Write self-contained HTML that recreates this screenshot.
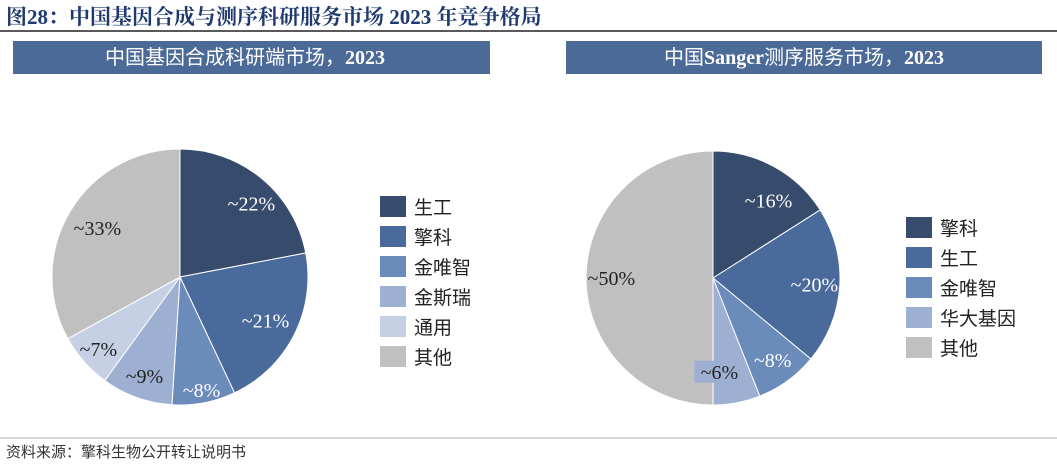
<!DOCTYPE html>
<html><head><meta charset="utf-8"><style>
body{margin:0;width:1057px;height:467px;background:#fff;overflow:hidden;font-family:"Liberation Serif","Noto Serif CJK SC",serif}
</style></head><body>
<svg width="1057" height="467" xmlns="http://www.w3.org/2000/svg">
<text x="6" y="24" font-size="21" font-weight="bold" fill="#1f3a6e" font-family="Liberation Serif,Noto Serif CJK SC,serif">图28：中国基因合成与测序科研服务市场 2023  年竞争格局</text>
<line x1="0" y1="31" x2="1057" y2="31" stroke="#222" stroke-width="1.5"/>
<rect x="13" y="41" width="477" height="33" fill="#4b6a97"/>
<text x="245" y="64" text-anchor="middle" font-size="20" fill="#fff" font-family="Liberation Serif,Noto Sans CJK SC,serif">中国基因合成科研端市场，<tspan font-weight="bold">2023</tspan></text>
<rect x="566" y="41" width="476" height="33" fill="#4b6a97"/>
<text x="804" y="64" text-anchor="middle" font-size="20" fill="#fff" font-family="Liberation Serif,Noto Sans CJK SC,serif">中国<tspan font-weight="bold">Sanger</tspan>测序服务市场，<tspan font-weight="bold">2023</tspan></text>
<g id="left"></g><g id="right"></g>
<line x1="0" y1="438" x2="1057" y2="438" stroke="#999" stroke-width="0.8"/>
<text x="6" y="457" font-size="15" fill="#333" font-family="Liberation Serif,Noto Sans CJK SC,serif">资料来源：擎科生物公开转让说明书</text>
</svg>
<script>
const leftCats=["生工","擎科","金唯智","金斯瑞","通用","其他"];
const leftVals=[22,21,8,9,7,33];
const leftColors=["#374b6c","#4a6a9b","#6b8bbb","#9db0d1","#c5d0e4","#c0c0c0"];
const rightCats=["擎科","生工","金唯智","华大基因","其他"];
const rightVals=[16,20,8,6,50];
const rightColors=["#374b6c","#4a6a9b","#6b8bbb","#9db0d1","#c0c0c0"];
const NS="http://www.w3.org/2000/svg";
function mk(t,a,p){const e=document.createElementNS(NS,t);for(const k in a)e.setAttribute(k,a[k]);p.appendChild(e);return e;}
function pie(g,cats,vals,cols,cx,cy,r,lx,ly,prefix,o){
  const tot=vals.reduce((a,b)=>a+b,0);let a0=0;
  vals.forEach((v,i)=>{
    const a1=a0+v/tot*2*Math.PI;
    const x0=cx+r*Math.sin(a0),y0=cy-r*Math.cos(a0),x1=cx+r*Math.sin(a1),y1=cy-r*Math.cos(a1);
    const p=mk('path',{d:`M${cx},${cy}L${x0},${y0}A${r},${r} 0 ${a1-a0>Math.PI?1:0} 1 ${x1},${y1}Z`,fill:cols[i],stroke:'#fff','stroke-width':1},g);
    
    
    a0=a1;
  });
  a0=0;
  vals.forEach((v,i)=>{
    const a1=a0+v/tot*2*Math.PI;
    const am=(a0+a1)/2+o.da[i],lr=r*o.rf[i];
    const tx=cx+lr*Math.sin(am),ty=cy-lr*Math.cos(am);
    if(o.box&&o.box[i]){const b=mk('rect',{x:tx-25,y:ty-11,width:50,height:22,fill:cols[i]},g);
      
      }
    const t=mk('text',{x:tx,y:ty+7,'text-anchor':'middle','font-size':20,fill:o.dark[i]?'#222':'#fff'},g);
    t.textContent='~'+v+'%';
    
    
    a0=a1;
  });
  cats.forEach((c,i)=>{
    const s=mk('rect',{x:lx,y:ly+i*30,width:26,height:21,fill:cols[i]},g);
    
    
    const t=mk('text',{x:lx+34,y:ly+i*30+18,'font-size':19,fill:'#222','font-family':'Noto Sans CJK SC,sans-serif'},g);
    t.textContent=c;
    
    
  });
}
pie(document.getElementById('left'),leftCats,leftVals,leftColors,180,277,128,380,196,'left',
 {rf:[0.8,0.75,0.9,0.82,0.85,0.75],da:[0.08,0,0,0,0,0],dark:[0,0,0,1,1,1]});
pie(document.getElementById('right'),rightCats,rightVals,rightColors,713,278,127,906,217,'right',
 {rf:[0.75,0.8,0.8,0.74,0.8],da:[0.12,0,0,0.12,0],dark:[0,0,0,1,1],box:[0,0,0,1,0]});
</script>
</body></html>
